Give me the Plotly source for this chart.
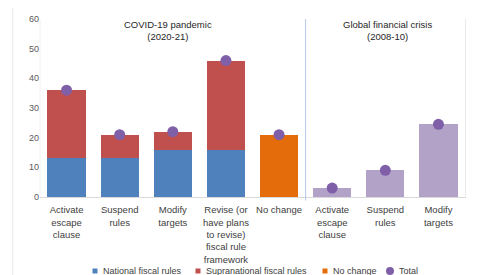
import plotly.graph_objects as go

tick_labels = ["Activate<br>escape<br>clause", "Suspend<br>rules", "Modify<br>targets",
               "Revise (or<br>have plans<br>to revise)<br>fiscal rule<br>framework", "No change",
               "Activate<br>escape<br>clause", "Suspend<br>rules", "Modify<br>targets"]
covid_x = [0, 1, 2, 3]
national = [13, 13, 16, 16]
supranational = [23, 8, 6, 30]
nochange_x = [4]
nochange = [21]
gfc_x = [5, 6, 7]
gfc = [3, 9, 24.5]
total_x = [0, 1, 2, 3, 4, 5, 6, 7]
total = [36, 21, 22, 46, 21, 3, 9, 24.5]
y_ticks = [0, 10, 20, 30, 40, 50, 60]

legend_names = ["National fiscal rules", "Supranational fiscal rules", "No change", "Total"]
legend_colors = ["#4F81BD", "#C0504D", "#E46C0A", "#7F60A8"]
legend_kinds = ["square", "square", "square", "dot"]

FONT = "Liberation Sans"
W = 0.72

fig = go.Figure()
fig.add_trace(go.Bar(x=covid_x, y=national, name=legend_names[0],
                     marker=dict(color=legend_colors[0], line=dict(width=0)), width=W))
fig.add_trace(go.Bar(x=covid_x, y=supranational, name=legend_names[1],
                     marker=dict(color=legend_colors[1], line=dict(width=0)), width=W))
fig.add_trace(go.Bar(x=nochange_x, y=nochange, name=legend_names[2],
                     marker=dict(color=legend_colors[2], line=dict(width=0)), width=W))
fig.add_trace(go.Bar(x=gfc_x, y=gfc, name="GFC",
                     marker=dict(color="#B3A2C7", line=dict(width=0)), width=W))
fig.add_trace(go.Scatter(x=total_x, y=total, name=legend_names[3], mode="markers",
                         marker=dict(color=legend_colors[3], size=11)))
# invisible trace to activate secondary axis
fig.add_trace(go.Scatter(x=[0], y=[0], yaxis="y2", mode="markers",
                         marker=dict(opacity=0), hoverinfo="skip"))

# Compact legend (Excel-style), laid out in pixel space below the plot
L, R, T, B = 32, 22, 11, 86
FIG_W, FIG_H = 479, 275
pw, ph = FIG_W - L - R, FIG_H - T - B
def px_x(fx):
    return (fx - L) / pw
def px_y(fy):
    return (FIG_H - B - fy) / ph

leg_y = 263
leg_starts = [87, 190, 317, 382]
shapes = [
    dict(type="line", xref="x", yref="paper", x0=4.5, x1=4.5, y0=-0.02, y1=1.0,
         line=dict(color="#B4C7E7", width=1)),
    dict(type="line", xref="paper", yref="paper", x0=-0.064, x1=-0.064, y0=-0.5, y1=1.1,
         line=dict(color="#E6E6E6", width=1)),
    dict(type="line", xref="paper", yref="paper", x0=0, x1=0, y0=0, y1=1.0,
         line=dict(color="#F0F0F0", width=1)),
]
annotations = [
    dict(text="COVID-19 pandemic<br>(2020-21)", x=1.9, xref="x", y=0.933, yref="paper",
         yanchor="middle", showarrow=False, font=dict(size=9.5, color="#262626"), align="center"),
    dict(text="Global financial crisis<br>(2008-10)", x=6.04, xref="x", y=0.933, yref="paper",
         yanchor="middle", showarrow=False, font=dict(size=9.5, color="#262626"), align="center"),
]
for name, col, kind, sx in zip(legend_names, legend_colors, legend_kinds, leg_starts):
    half = 2.5 if kind == "square" else 4
    shapes.append(dict(type="rect" if kind == "square" else "circle",
                       xref="paper", yref="paper",
                       x0=px_x(sx - half), x1=px_x(sx + half),
                       y0=px_y(leg_y + half), y1=px_y(leg_y - half),
                       fillcolor=col, line=dict(width=0)))
    annotations.append(dict(text=name, xref="paper", yref="paper",
                            x=px_x(sx + half + 3), y=px_y(leg_y), xanchor="left",
                            yanchor="middle", showarrow=False,
                            font=dict(size=9, color="#404040")))

fig.update_layout(
    width=FIG_W, height=FIG_H,
    margin=dict(l=L, r=R, t=T, b=B, autoexpand=False),
    paper_bgcolor="white", plot_bgcolor="white",
    barmode="stack", bargap=0.28,
    font=dict(family=FONT, size=9, color="#404040"),
    showlegend=False,
    xaxis=dict(range=[-0.5, 7.5], tickmode="array", tickvals=total_x, ticktext=tick_labels,
               showgrid=False, zeroline=False, showline=True, linecolor="#D9D9D9",
               linewidth=1, ticks="", ticklabelstandoff=4,
               tickfont=dict(size=9.5, color="#404040"), automargin=False),
    yaxis=dict(range=[0, 60], tickvals=y_ticks, showgrid=False, zeroline=False,
               showline=False, ticks="", ticklen=0, tickfont=dict(size=9, color="#595959"),
               automargin=False),
    yaxis2=dict(range=[0, 60], tickvals=y_ticks, overlaying="y", side="right",
                showgrid=False, zeroline=False, showline=True, linecolor="#EBEBEB",
                ticks="", ticklabelstandoff=4, tickfont=dict(size=9, color="#595959"),
                automargin=False),
    shapes=shapes,
    annotations=annotations,
)

fig.write_html("out.html")
